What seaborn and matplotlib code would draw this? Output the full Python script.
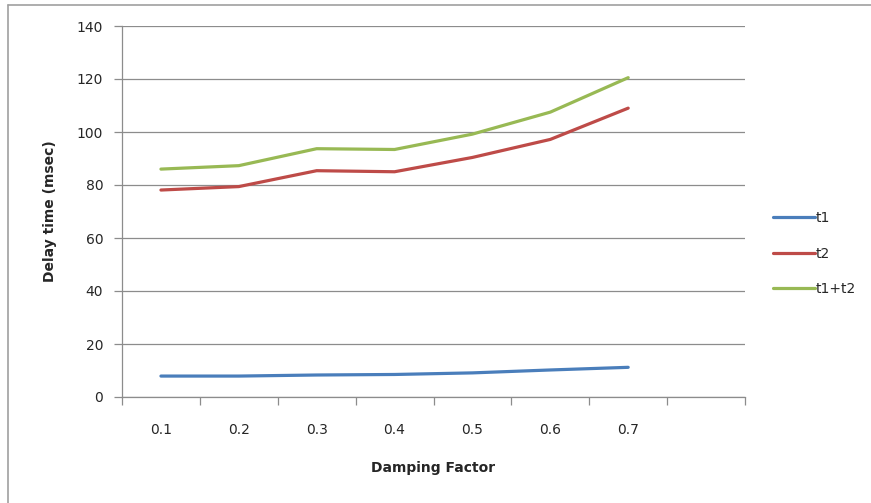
import numpy as np
import pandas as pd
import matplotlib
matplotlib.use("Agg")
import matplotlib.pyplot as plt
from matplotlib.lines import Line2D
import seaborn as sns

# Damping factor categories and measured delays (msec)
damping = ["0.1", "0.2", "0.3", "0.4", "0.5", "0.6", "0.7"]
t1 = [7.9, 7.9, 8.3, 8.5, 9.1, 10.2, 11.2]
t2 = [78.1, 79.4, 85.4, 85.0, 90.4, 97.2, 109.0]
t1_t2 = [86.0, 87.3, 93.7, 93.4, 99.2, 107.5, 120.5]
series_names = ["t1", "t2", "t1+t2"]
y_ticks = [0, 20, 40, 60, 80, 100, 120, 140]

colors = {"t1": "#4a7ebb", "t2": "#be4b48", "t1+t2": "#98b954"}

df = pd.DataFrame({
    "Damping Factor": damping * 3,
    "pos": list(range(len(damping))) * 3,
    "Delay": t1 + t2 + t1_t2,
    "series": sum([[s] * len(damping) for s in series_names], []),
})

sns.set_style("white")
plt.rcParams["font.family"] = ["DejaVu Sans"]

fig = plt.figure(figsize=(8.71, 5.03), dpi=100)
ax = fig.add_axes([122 / 871, 106 / 503, 623 / 871, 371 / 503])

grid_col = "#8c8c8c"
text_col = "#262626"
sns.lineplot(data=df, x="pos", y="Delay", hue="series", palette=colors,
             hue_order=series_names, linewidth=2.3, ax=ax, legend=False,
             zorder=3)

ax.set_xlim(-0.5, 7.5)
ax.set_ylim(0, 140)
ax.set_yticks(y_ticks)
ax.set_yticklabels([str(v) for v in y_ticks])
ax.yaxis.grid(True, color=grid_col, linewidth=0.9)
ax.xaxis.grid(False)

# category boundaries carry the tick marks, labels sit at the centres
ax.set_xticks(np.arange(-0.5, 8, 1.0))
ax.set_xticklabels([])
ax.set_xticks(range(len(damping)), minor=True)
ax.set_xticklabels(damping, minor=True)
ax.tick_params(axis="x", which="major", direction="out", length=5.5,
               width=0.9, color=grid_col, bottom=True)
ax.tick_params(axis="x", which="minor", length=0, pad=19,
               labelsize=10, labelcolor=text_col)
ax.tick_params(axis="y", direction="out", length=5.5, width=0.9,
               color=grid_col, left=True, pad=8, labelsize=10,
               labelcolor=text_col)

for side in ["top", "right"]:
    ax.spines[side].set_visible(False)
for side in ["left", "bottom"]:
    ax.spines[side].set_color(grid_col)
    ax.spines[side].set_linewidth(0.9)

ax.set_xlabel("Damping Factor", fontsize=10, fontweight="bold",
              color=text_col, labelpad=17)
ax.set_ylabel("Delay time (msec)", fontsize=10, fontweight="bold",
              color=text_col, labelpad=14)

handles = [Line2D([], [], color=colors[s], linewidth=2.3) for s in series_names]
fig.legend(handles, series_names, loc="upper left",
           bbox_to_anchor=(773 / 871, 1 - 211 / 503), frameon=False,
           fontsize=10, handlelength=3.0, handletextpad=0.1,
           labelspacing=1.55, borderpad=0, borderaxespad=0,
           labelcolor=text_col)

# chart area border (top and left edges)
border = "#a0a0a0"
fig.add_artist(Line2D([8 / 871, 1.0], [1 - 5 / 503, 1 - 5 / 503],
                      color=border, linewidth=1.2, transform=fig.transFigure))
fig.add_artist(Line2D([8 / 871, 8 / 871], [0.0, 1 - 5 / 503],
                      color=border, linewidth=1.2, transform=fig.transFigure))

fig.savefig("out.png", dpi=100, facecolor="white")
